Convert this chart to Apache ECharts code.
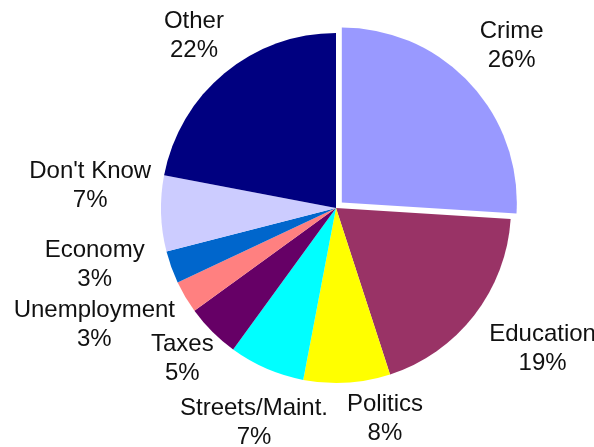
<!DOCTYPE html>
<html>
<head>
<meta charset="utf-8">
<script src="https://cdn.jsdelivr.net/npm/echarts@6/dist/echarts.min.js"></script>
<style>
  html, body { margin: 0; padding: 0; background: #ffffff; }
  #chart { width: 594px; height: 447px; }
</style>
</head>
<body>
<div id="chart"></div>
<script>
// Issue categories, clockwise from twelve o'clock
const categories = ['Crime', 'Education', 'Politics', 'Streets/Maint.', 'Taxes',
                    'Unemployment', 'Economy', "Don't Know", 'Other'];
// Share of respondents, percent
const shares = [26, 19, 8, 7, 5, 3, 3, 7, 22];
// Slice pulled out of the pie
const explodedCategory = 'Crime';

const sliceColors = ['#9999FF', '#993366', '#FFFF00', '#00FFFF', '#660066',
                     '#FF8080', '#0066CC', '#CCCCFF', '#000080'];

// Pie geometry (pixels)
const CX = 336, CY = 208, R = 175, EXPLODE = 8, LABEL_GAP = 11;
// Label tweaks: [extra turn in degrees, extra gap in pixels] for labels pulled aside
const labelNudge = {
  'Crime': [0.5, 6], 'Education': [-3.5, 7], 'Politics': [-9.5, -1], 'Streets/Maint.': [-2.5, -4],
  'Taxes': [0.5, -9], 'Unemployment': [4.7, 0], 'Economy': [6.5, 8], "Don't Know": [7, -2]
};

const total = shares.reduce((a, b) => a + b, 0);
const midAngles = [];
let acc = 0;
shares.forEach(v => { midAngles.push((acc + v / 2) / total * 360); acc += v; });

const explodedIndex = categories.indexOf(explodedCategory);
const explodeAngle = midAngles[explodedIndex] * Math.PI / 180;
const EX = Math.sin(explodeAngle) * EXPLODE, EY = -Math.cos(explodeAngle) * EXPLODE;

// Centre each two-line label just outside its slice, along the slice's mid-angle
function makeLabelPlacer(ox, oy) {
  return function (p) {
    const i = p.dataIndex;
    const nudge = labelNudge[categories[i]] || [0, 0];
    const a = (midAngles[i] + nudge[0]) * Math.PI / 180;
    const ux = Math.sin(a), uy = -Math.cos(a);
    const hw = p.labelRect.width / 2, hh = p.labelRect.height / 2 - 6;
    const d = R + LABEL_GAP + nudge[1] + Math.abs(ux) * hw + Math.abs(uy) * hh;
    return { x: ox + ux * d, y: oy + uy * d, align: 'center', verticalAlign: 'middle' };
  };
}

const labelStyle = {
  show: true,
  position: 'outside',
  formatter: '{b}\n{c}%',
  fontFamily: '"Liberation Sans", Arial, sans-serif',
  fontSize: 24,
  lineHeight: 29,
  color: '#111111'
};

// One pie for the slices in place, one shifted pie carrying only the pulled-out slice
function pieSeries(ox, oy, showSlice) {
  return {
    type: 'pie',
    center: [ox, oy],
    radius: R,
    startAngle: 90,
    clockwise: true,
    silent: true,
    avoidLabelOverlap: false,
    emphasis: { disabled: true },
    itemStyle: { borderWidth: 0 },
    label: labelStyle,
    labelLine: { show: false },
    labelLayout: makeLabelPlacer(ox, oy),
    data: categories.map((name, i) => {
      const visible = showSlice(i);
      return {
        name: name,
        value: shares[i],
        itemStyle: { color: visible ? sliceColors[i] : 'rgba(0,0,0,0)' },
        label: { show: visible }
      };
    })
  };
}

const chart = echarts.init(document.getElementById('chart'), null, { renderer: 'canvas' });

chart.setOption({
  backgroundColor: '#ffffff',
  animation: false,
  series: [
    pieSeries(CX, CY, i => i !== explodedIndex),
    pieSeries(CX + EX, CY + EY, i => i === explodedIndex)
  ]
});
</script>
</body>
</html>
